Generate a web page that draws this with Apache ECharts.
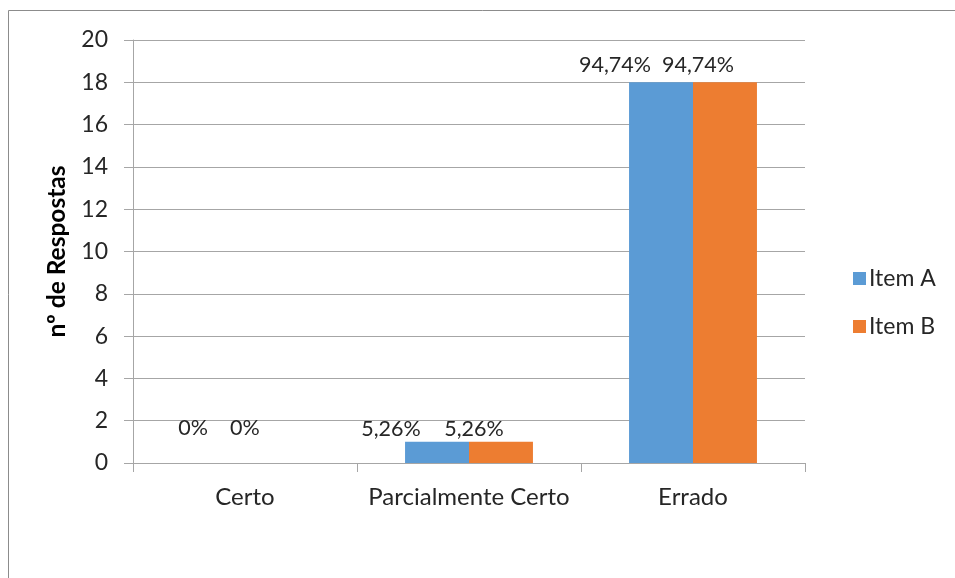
<!DOCTYPE html>
<html>
<head>
<meta charset="utf-8">
<script src="https://cdn.jsdelivr.net/npm/echarts@6/dist/echarts.min.js"></script>
<style>
  html, body { margin: 0; padding: 0; background: #fff; }
  #chart { width: 955px; height: 578px; }
</style>
</head>
<body>
<div id="chart"></div>
<script>
// Response counts per category, with the share shown above each bar
const categories = ['Certo', 'Parcialmente Certo', 'Errado'];
const itemA = [0, 1, 18];
const itemB = [0, 1, 18];
const itemALabels = ['0%', '5,26%', '94,74%'];
const itemBLabels = ['0%', '5,26%', '94,74%'];
const yTicks = { min: 0, max: 20, interval: 2 };

const FONT = 'Lato, "Open Sans", sans-serif';
const GRID_COLOR = '#a6a6a6';

function seriesData(values, labels, shiftX, zeroShiftX) {
  return values.map((v, i) => ({
    value: v,
    label: {
      formatter: labels[i],
      offset: v === 0 ? [zeroShiftX, -22] : [shiftX, v > 5 ? -4 : 0]
    }
  }));
}

const chart = echarts.init(document.getElementById('chart'), null, { renderer: 'canvas' });

chart.setOption({
  animation: false,
  backgroundColor: '#ffffff',
  textStyle: { fontFamily: FONT },
  graphic: [{
    type: 'rect',
    silent: true,
    shape: { x: 8.5, y: 10.5, width: 1200, height: 1000 },
    style: { fill: 'none', stroke: '#8c8c8c', lineWidth: 1 }
  }],
  grid: { left: 133, right: 150, top: 40, bottom: 115, containLabel: false },
  legend: {
    orient: 'vertical',
    left: 848,
    top: 262,
    itemWidth: 13,
    itemHeight: 13,
    itemGap: 25,
    icon: 'rect',
    textStyle: { fontFamily: FONT, fontSize: 23, color: '#262626', padding: [0, 0, 0, -2] },
    data: ['Item A', 'Item B']
  },
  xAxis: {
    type: 'category',
    data: categories,
    axisLine: { show: true, lineStyle: { color: GRID_COLOR, width: 1 } },
    axisTick: { show: true, alignWithLabel: false, length: 9, lineStyle: { color: GRID_COLOR } },
    axisLabel: { interval: 0, fontFamily: FONT, fontSize: 24, color: '#262626', margin: 22 },
    splitLine: { show: false }
  },
  yAxis: {
    type: 'value',
    min: yTicks.min,
    max: yTicks.max,
    interval: yTicks.interval,
    name: 'nº de Respostas',
    nameLocation: 'middle',
    nameGap: 63,
    nameRotate: 90,
    nameTextStyle: { fontFamily: FONT, fontSize: 24.5, fontWeight: 'bold', color: '#000' },
    axisLine: { show: true, lineStyle: { color: GRID_COLOR, width: 1 } },
    axisTick: { show: true, length: 9, lineStyle: { color: GRID_COLOR } },
    axisLabel: { fontFamily: FONT, fontSize: 23, color: '#262626', margin: 25 },
    splitLine: { show: true, lineStyle: { color: GRID_COLOR, width: 1 } }
  },
  series: [
    {
      name: 'Item A',
      type: 'bar',
      barGap: '0%',
      barCategoryGap: '42.9%',
      itemStyle: { color: '#5b9bd5' },
      label: { show: true, position: 'top', distance: 2, fontFamily: FONT, fontSize: 21.5, color: '#262626' },
      data: seriesData(itemA, itemALabels, -46, -20)
    },
    {
      name: 'Item B',
      type: 'bar',
      barGap: '0%',
      barCategoryGap: '42.9%',
      itemStyle: { color: '#ed7d31' },
      label: { show: true, position: 'top', distance: 2, fontFamily: FONT, fontSize: 21.5, color: '#262626' },
      data: seriesData(itemB, itemBLabels, -27, -32)
    }
  ]
});
</script>
</body>
</html>
